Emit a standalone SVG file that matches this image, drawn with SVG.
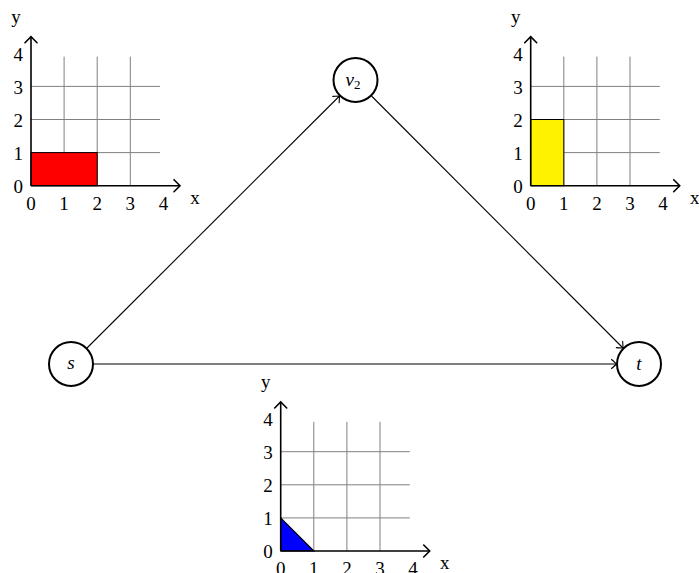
<svg xmlns="http://www.w3.org/2000/svg" width="699" height="573" viewBox="0 0 699 573">
<defs>
<style>
.grid{stroke:#808080;stroke-width:1;fill:none}
.axis{stroke:#000;stroke-width:1.6;fill:none;marker-end:url(#axarrow)}
.lbl{font-family:"Liberation Serif","DejaVu Serif",serif;font-size:19px;fill:#000}
.math{font-family:"Liberation Serif","DejaVu Serif",serif;font-size:19px;font-style:italic;fill:#000}
.node{fill:#fff;stroke:#000;stroke-width:2}
.edge{stroke:#000;stroke-width:1.1;fill:none;marker-end:url(#toarrow)}
</style>
<marker id="axarrow" markerUnits="userSpaceOnUse" viewBox="-10 -8 12 16" refX="0" refY="0" markerWidth="12" markerHeight="16" orient="auto" overflow="visible">
<path d="M-6,-6 Q-1,-1 0,0 Q-1,1 -6,6" fill="none" stroke="#000" stroke-width="1.6" stroke-linecap="round"/>
</marker>
<marker id="toarrow" markerUnits="userSpaceOnUse" viewBox="-10 -8 12 16" refX="0" refY="0" markerWidth="12" markerHeight="16" orient="auto" overflow="visible">
<path d="M-5,-4.5 Q-1,-1 0,0 Q-1,1 -5,4.5" fill="none" stroke="#000" stroke-width="1.1" stroke-linecap="round"/>
</marker>
</defs>

<g id="edges">
<line class="edge" x1="87" y1="348" x2="339.5" y2="96"/>
<line class="edge" x1="371.5" y1="96" x2="623" y2="348"/>
<line class="edge" x1="93.5" y1="364" x2="616.5" y2="364"/>
</g>

<g id="node-v2">
<circle class="node" cx="355.5" cy="80" r="22"/>
<text class="math" x="353" y="85.5" text-anchor="middle">v<tspan font-size="13" font-style="normal" dy="3">2</tspan></text>
</g>
<g id="node-s">
<circle class="node" cx="71" cy="364" r="22"/>
<text class="math" x="71" y="369" text-anchor="middle">s</text>
</g>
<g id="node-t">
<circle class="node" cx="639" cy="364" r="22"/>
<text class="math" x="639" y="370" text-anchor="middle">t</text>
</g>

<g id="plot-red">
<path class="grid" d="M64.1,185.7V56.6M97.2,185.7V56.6M130.3,185.7V56.6M31,152.6H160.1M31,119.5H160.1M31,86.4H160.1"/>
<rect x="31" y="152.6" width="66.2" height="33.1" fill="#ff0000" stroke="#000" stroke-width="1"/>
<line class="axis" x1="31" y1="185.7" x2="180" y2="185.7"/>
<line class="axis" x1="31" y1="185.7" x2="31" y2="36.7"/>
<g class="lbl" text-anchor="middle">
<text x="31" y="210">0</text><text x="64.1" y="210">1</text><text x="97.2" y="210">2</text><text x="130.3" y="210">3</text><text x="163.4" y="210">4</text>
</g>
<g class="lbl" text-anchor="end">
<text x="23" y="193.2">0</text><text x="23" y="160.1">1</text><text x="23" y="127">2</text><text x="23" y="93.9">3</text><text x="23" y="60.8">4</text>
</g>
<text class="lbl" x="195" y="204" text-anchor="middle">x</text>
<text class="lbl" x="16" y="23" text-anchor="middle">y</text>
</g>

<g id="plot-yellow" transform="translate(499.7,0)">
<path class="grid" d="M64.1,185.7V56.6M97.2,185.7V56.6M130.3,185.7V56.6M31,152.6H160.1M31,119.5H160.1M31,86.4H160.1"/>
<rect x="31" y="119.5" width="33.1" height="66.2" fill="#fff200" stroke="#000" stroke-width="1"/>
<line class="axis" x1="31" y1="185.7" x2="180" y2="185.7"/>
<line class="axis" x1="31" y1="185.7" x2="31" y2="36.7"/>
<g class="lbl" text-anchor="middle">
<text x="31" y="210">0</text><text x="64.1" y="210">1</text><text x="97.2" y="210">2</text><text x="130.3" y="210">3</text><text x="163.4" y="210">4</text>
</g>
<g class="lbl" text-anchor="end">
<text x="23" y="193.2">0</text><text x="23" y="160.1">1</text><text x="23" y="127">2</text><text x="23" y="93.9">3</text><text x="23" y="60.8">4</text>
</g>
<text class="lbl" x="195" y="204" text-anchor="middle">x</text>
<text class="lbl" x="16" y="23" text-anchor="middle">y</text>
</g>

<g id="plot-blue" transform="translate(249.7,365.3)">
<path class="grid" d="M64.1,185.7V56.6M97.2,185.7V56.6M130.3,185.7V56.6M31,152.6H160.1M31,119.5H160.1M31,86.4H160.1"/>
<polygon points="31,185.7 64.1,185.7 31,152.6" fill="#0000ff" stroke="#000" stroke-width="1.2"/>
<line class="axis" x1="31" y1="185.7" x2="180" y2="185.7"/>
<line class="axis" x1="31" y1="185.7" x2="31" y2="36.7"/>
<g class="lbl" text-anchor="middle">
<text x="31" y="210">0</text><text x="64.1" y="210">1</text><text x="97.2" y="210">2</text><text x="130.3" y="210">3</text><text x="163.4" y="210">4</text>
</g>
<g class="lbl" text-anchor="end">
<text x="23" y="193.2">0</text><text x="23" y="160.1">1</text><text x="23" y="127">2</text><text x="23" y="93.9">3</text><text x="23" y="60.8">4</text>
</g>
<text class="lbl" x="195" y="204" text-anchor="middle">x</text>
<text class="lbl" x="16" y="23" text-anchor="middle">y</text>
</g>
</svg>
